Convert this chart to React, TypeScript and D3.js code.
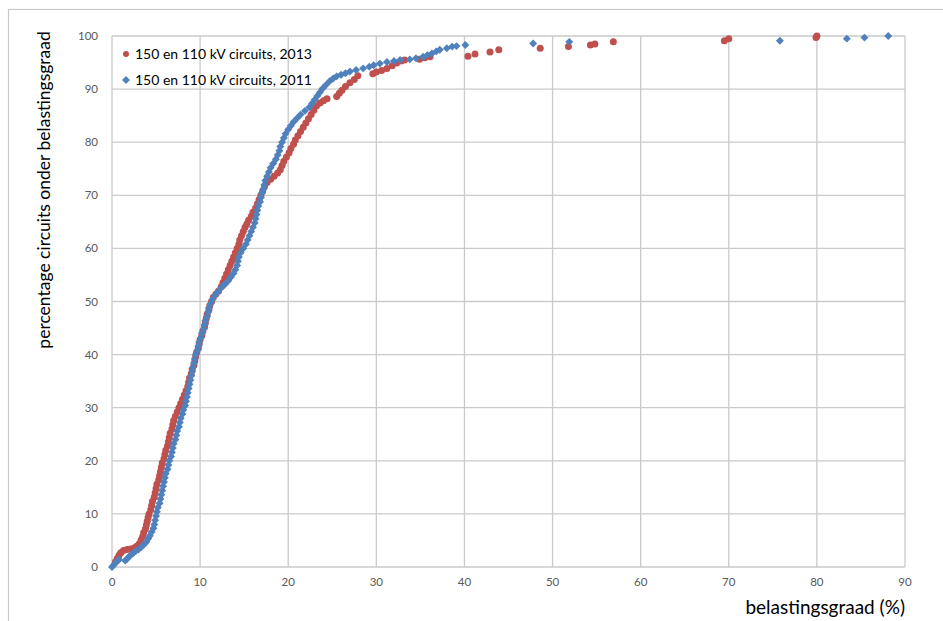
import React from "react";
import * as d3 from "d3";

const W = 943;
const H = 621;

const xTicks = [0, 10, 20, 30, 40, 50, 60, 70, 80, 90];
const yTicks = [0, 10, 20, 30, 40, 50, 60, 70, 80, 90, 100];

const seriesNames = ["150 en 110 kV circuits, 2013", "150 en 110 kV circuits, 2011"];
const xTitle = "belastingsgraad (%)";
const yTitle = "percentage circuits onder belastingsgraad";

// [belastingsgraad %, cumulative percentage]
const circuits2013: [number, number][] = [
  [0.4, 1.0], [0.6, 1.6], [0.8, 2.2], [1.0, 2.7], [1.3, 3.1], [1.7, 3.3], [2.1, 3.4], [2.5, 3.6],
  [2.8, 3.9], [3.1, 4.4], [3.3, 5.1], [3.5, 5.8], [3.6, 6.5], [3.8, 7.2], [3.9, 7.9], [4.0, 8.6],
  [4.1, 9.3], [4.2, 10.0], [4.4, 10.8], [4.5, 11.6], [4.6, 12.4], [4.8, 13.2], [4.9, 14.0], [5.0, 14.8],
  [5.1, 15.6], [5.3, 16.4], [5.4, 17.2], [5.5, 18.0], [5.6, 18.8], [5.7, 19.6], [5.9, 20.4], [6.0, 21.2],
  [6.1, 22.0], [6.3, 22.8], [6.4, 23.6], [6.5, 24.4], [6.6, 25.2], [6.8, 26.0], [6.9, 26.8], [7.0, 27.6],
  [7.2, 28.4], [7.4, 29.2], [7.6, 30.0], [7.8, 30.8], [8.0, 31.6], [8.2, 32.4], [8.4, 33.2], [8.6, 34.0],
  [8.7, 34.8], [8.8, 35.6], [9.0, 36.4], [9.1, 37.2], [9.3, 38.0], [9.4, 38.8], [9.5, 39.6], [9.6, 40.4],
  [9.8, 41.2], [9.9, 42.0], [10.0, 42.8], [10.2, 43.6], [10.3, 44.4], [10.5, 45.2], [10.6, 46.0], [10.7, 46.8],
  [10.8, 47.6], [11.0, 48.4], [11.1, 49.2], [11.3, 50.0], [11.5, 50.8], [11.8, 51.4], [12.1, 52.0], [12.4, 52.8],
  [12.6, 53.6], [12.8, 54.4], [13.0, 55.2], [13.2, 56.0], [13.4, 56.8], [13.6, 57.6], [13.8, 58.4], [14.0, 59.2],
  [14.2, 60.0], [14.4, 60.8], [14.5, 61.6], [14.7, 62.4], [14.9, 63.2], [15.1, 64.0], [15.3, 64.6], [15.5, 65.3],
  [15.8, 66.0], [16.0, 66.8], [16.3, 67.6], [16.5, 68.4], [16.7, 69.2], [16.9, 70.0], [17.1, 70.8], [17.3, 71.6],
  [17.6, 72.4], [18.0, 73.0], [18.4, 73.6], [18.8, 74.2], [19.1, 74.8], [19.3, 75.6], [19.5, 76.4], [19.8, 77.2],
  [20.1, 78.0], [20.3, 78.8], [20.6, 79.6], [20.8, 80.4], [21.1, 81.2], [21.4, 82.0], [21.7, 82.8], [22.0, 83.6],
  [22.3, 84.4], [22.6, 85.2], [22.9, 86.0], [23.2, 86.8], [23.6, 87.4], [24.0, 87.8], [24.4, 88.2], [25.5, 88.6],
  [25.8, 89.2], [26.1, 89.8], [26.5, 90.5], [27.0, 91.2], [27.5, 91.8], [27.9, 92.5], [29.6, 92.9], [30.0, 93.2],
  [30.6, 93.5], [31.2, 93.9], [31.8, 94.4], [32.3, 94.9], [32.8, 95.3], [33.2, 95.5], [34.9, 95.6], [35.5, 95.9],
  [36.1, 96.1], [40.4, 96.2], [41.2, 96.6], [42.9, 97.0], [43.9, 97.4], [48.6, 97.7], [51.8, 98.0], [54.3, 98.3],
  [54.8, 98.5], [56.9, 98.9], [69.5, 99.1], [70.0, 99.5], [79.9, 99.7], [80.0, 100],
];

const circuits2011: [number, number][] = [
  [0.0, 0.0], [0.2, 0.4], [0.4, 0.8], [0.6, 1.1], [0.8, 1.4], [1.5, 1.2], [1.7, 1.5], [1.9, 1.9],
  [2.1, 2.2], [2.4, 2.6], [2.7, 3.0], [3.0, 3.3], [3.3, 3.7], [3.6, 4.2], [3.9, 4.7], [4.1, 5.3],
  [4.3, 5.9], [4.5, 6.6], [4.7, 7.3], [4.8, 8.0], [4.9, 8.8], [5.0, 9.6], [5.1, 10.4], [5.2, 11.2],
  [5.4, 12.0], [5.5, 12.8], [5.6, 13.6], [5.7, 14.4], [5.8, 15.2], [5.9, 16.0], [6.0, 16.8], [6.1, 17.6],
  [6.3, 18.4], [6.4, 19.2], [6.5, 20.0], [6.7, 20.8], [6.8, 21.6], [6.9, 22.4], [7.0, 23.2], [7.2, 24.0],
  [7.3, 24.8], [7.4, 25.6], [7.6, 26.4], [7.7, 27.2], [7.8, 28.0], [8.0, 28.8], [8.1, 29.6], [8.3, 30.4],
  [8.4, 31.2], [8.5, 32.0], [8.6, 32.8], [8.7, 33.6], [8.8, 34.4], [8.9, 35.2], [9.0, 36.0], [9.1, 36.8],
  [9.2, 37.6], [9.3, 38.4], [9.4, 39.2], [9.5, 40.0], [9.7, 40.8], [9.8, 41.6], [9.9, 42.4], [10.1, 43.2],
  [10.2, 44.0], [10.4, 44.8], [10.5, 45.6], [10.6, 46.4], [10.8, 47.2], [10.9, 48.0], [11.0, 48.8], [11.2, 49.6],
  [11.4, 50.4], [11.7, 51.2], [12.0, 51.8], [12.4, 52.6], [12.8, 53.2], [13.2, 53.9], [13.5, 54.6], [13.8, 55.3],
  [14.0, 56.0], [14.2, 56.8], [14.3, 57.6], [14.4, 58.4], [14.6, 59.2], [14.9, 60.0], [15.2, 60.8], [15.4, 61.6],
  [15.6, 62.4], [15.8, 63.2], [16.0, 64.0], [16.2, 64.8], [16.3, 65.6], [16.4, 66.4], [16.5, 67.2], [16.6, 68.0],
  [16.8, 68.8], [16.9, 69.6], [17.0, 70.4], [17.2, 71.2], [17.3, 72.0], [17.4, 72.8], [17.6, 73.6], [17.8, 74.4],
  [18.0, 75.2], [18.3, 76.0], [18.6, 76.8], [18.8, 77.6], [19.0, 78.4], [19.1, 79.2], [19.3, 80.0], [19.5, 80.8],
  [19.7, 81.6], [20.0, 82.4], [20.3, 83.1], [20.6, 83.8], [21.0, 84.5], [21.4, 85.2], [21.9, 85.9], [22.4, 86.6],
  [22.7, 87.3], [23.0, 88.0], [23.3, 88.7], [23.6, 89.4], [23.9, 90.1], [24.3, 90.8], [24.7, 91.5], [25.1, 92.0],
  [25.5, 92.4], [26.0, 92.7], [26.5, 93.0], [27.0, 93.3], [27.7, 93.6], [28.5, 93.9], [29.2, 94.2], [29.7, 94.5],
  [30.4, 94.8], [31.2, 95.1], [32.0, 95.3], [32.7, 95.5], [33.8, 95.6], [34.5, 95.8], [35.3, 96.1], [35.8, 96.4],
  [36.3, 96.7], [36.8, 97.1], [37.2, 97.4], [38.0, 97.7], [38.6, 98.0], [39.1, 98.1], [40.1, 98.3], [47.8, 98.6],
  [51.9, 98.9], [75.8, 99.1], [83.4, 99.5], [85.4, 99.7], [88.1, 100],
];

const RED = "#C0504D";
const BLUE = "#4F81BD";
const GRID = "#CACACA";
const FONT = "Lato, 'Open Sans', 'Liberation Sans', sans-serif";

export default function App() {
  const x = d3.scaleLinear().domain([0, 90]).range([112, 905]);
  const y = d3.scaleLinear().domain([0, 100]).range([567, 36]);
  const diamond = d3.symbol().type(d3.symbolDiamond2).size(40)() as string;

  return (
    <svg
      width={W}
      height={H}
      style={{ position: "absolute", left: 0, top: 0, background: "#fff" }}
      fontFamily={FONT}
    >
      <rect x={0} y={0} width={W} height={H} fill="#fff" />
      {/* outer chart border */}
      <rect x={8.5} y={9.5} width={W + 20} height={H + 20} fill="none" stroke="#C8C8C8" strokeWidth={1.2} />

      {/* grid */}
      {xTicks.map((t) => (
        <line key={"gx" + t} x1={x(t)} x2={x(t)} y1={y(0)} y2={y(100)} stroke={GRID} strokeWidth={1.3} />
      ))}
      {yTicks.map((t) => (
        <line key={"gy" + t} x1={x(0)} x2={x(90)} y1={y(t)} y2={y(t)} stroke={GRID} strokeWidth={1.3} />
      ))}

      {/* tick labels */}
      {xTicks.map((t) => (
        <text key={"tx" + t} x={x(t)} y={586} fontSize={11.5} fill="#595959" textAnchor="middle">
          {t}
        </text>
      ))}
      {yTicks.map((t) => (
        <text key={"ty" + t} x={98} y={y(t) + 4} fontSize={11.5} fill="#595959" textAnchor="end">
          {t}
        </text>
      ))}

      {/* axis titles */}
      <text x={905} y={614} fontSize={19} fill="#000" textAnchor="end">
        {xTitle}
      </text>
      <text
        transform={`translate(46, 190) rotate(-90)`}
        fontSize={17.5}
        fill="#000"
        textAnchor="middle"
        dominantBaseline="middle"
      >
        {yTitle}
      </text>

      {/* series */}
      <g>
        {circuits2013.map(([v, p], i) => (
          <circle key={"r" + i} cx={x(v)} cy={y(p)} r={3.5} fill={RED} />
        ))}
      </g>
      <g>
        {circuits2011.map(([v, p], i) => (
          <path key={"b" + i} d={diamond} transform={`translate(${x(v)},${y(p)})`} fill={BLUE} />
        ))}
      </g>

      {/* legend */}
      <circle cx={126} cy={54} r={3} fill={RED} />
      <text x={135} y={59} fontSize={14} fill="#000">
        {seriesNames[0]}
      </text>
      <path d={diamond} transform="translate(126,80)" fill={BLUE} />
      <text x={135} y={85} fontSize={14} fill="#000">
        {seriesNames[1]}
      </text>
    </svg>
  );
}
